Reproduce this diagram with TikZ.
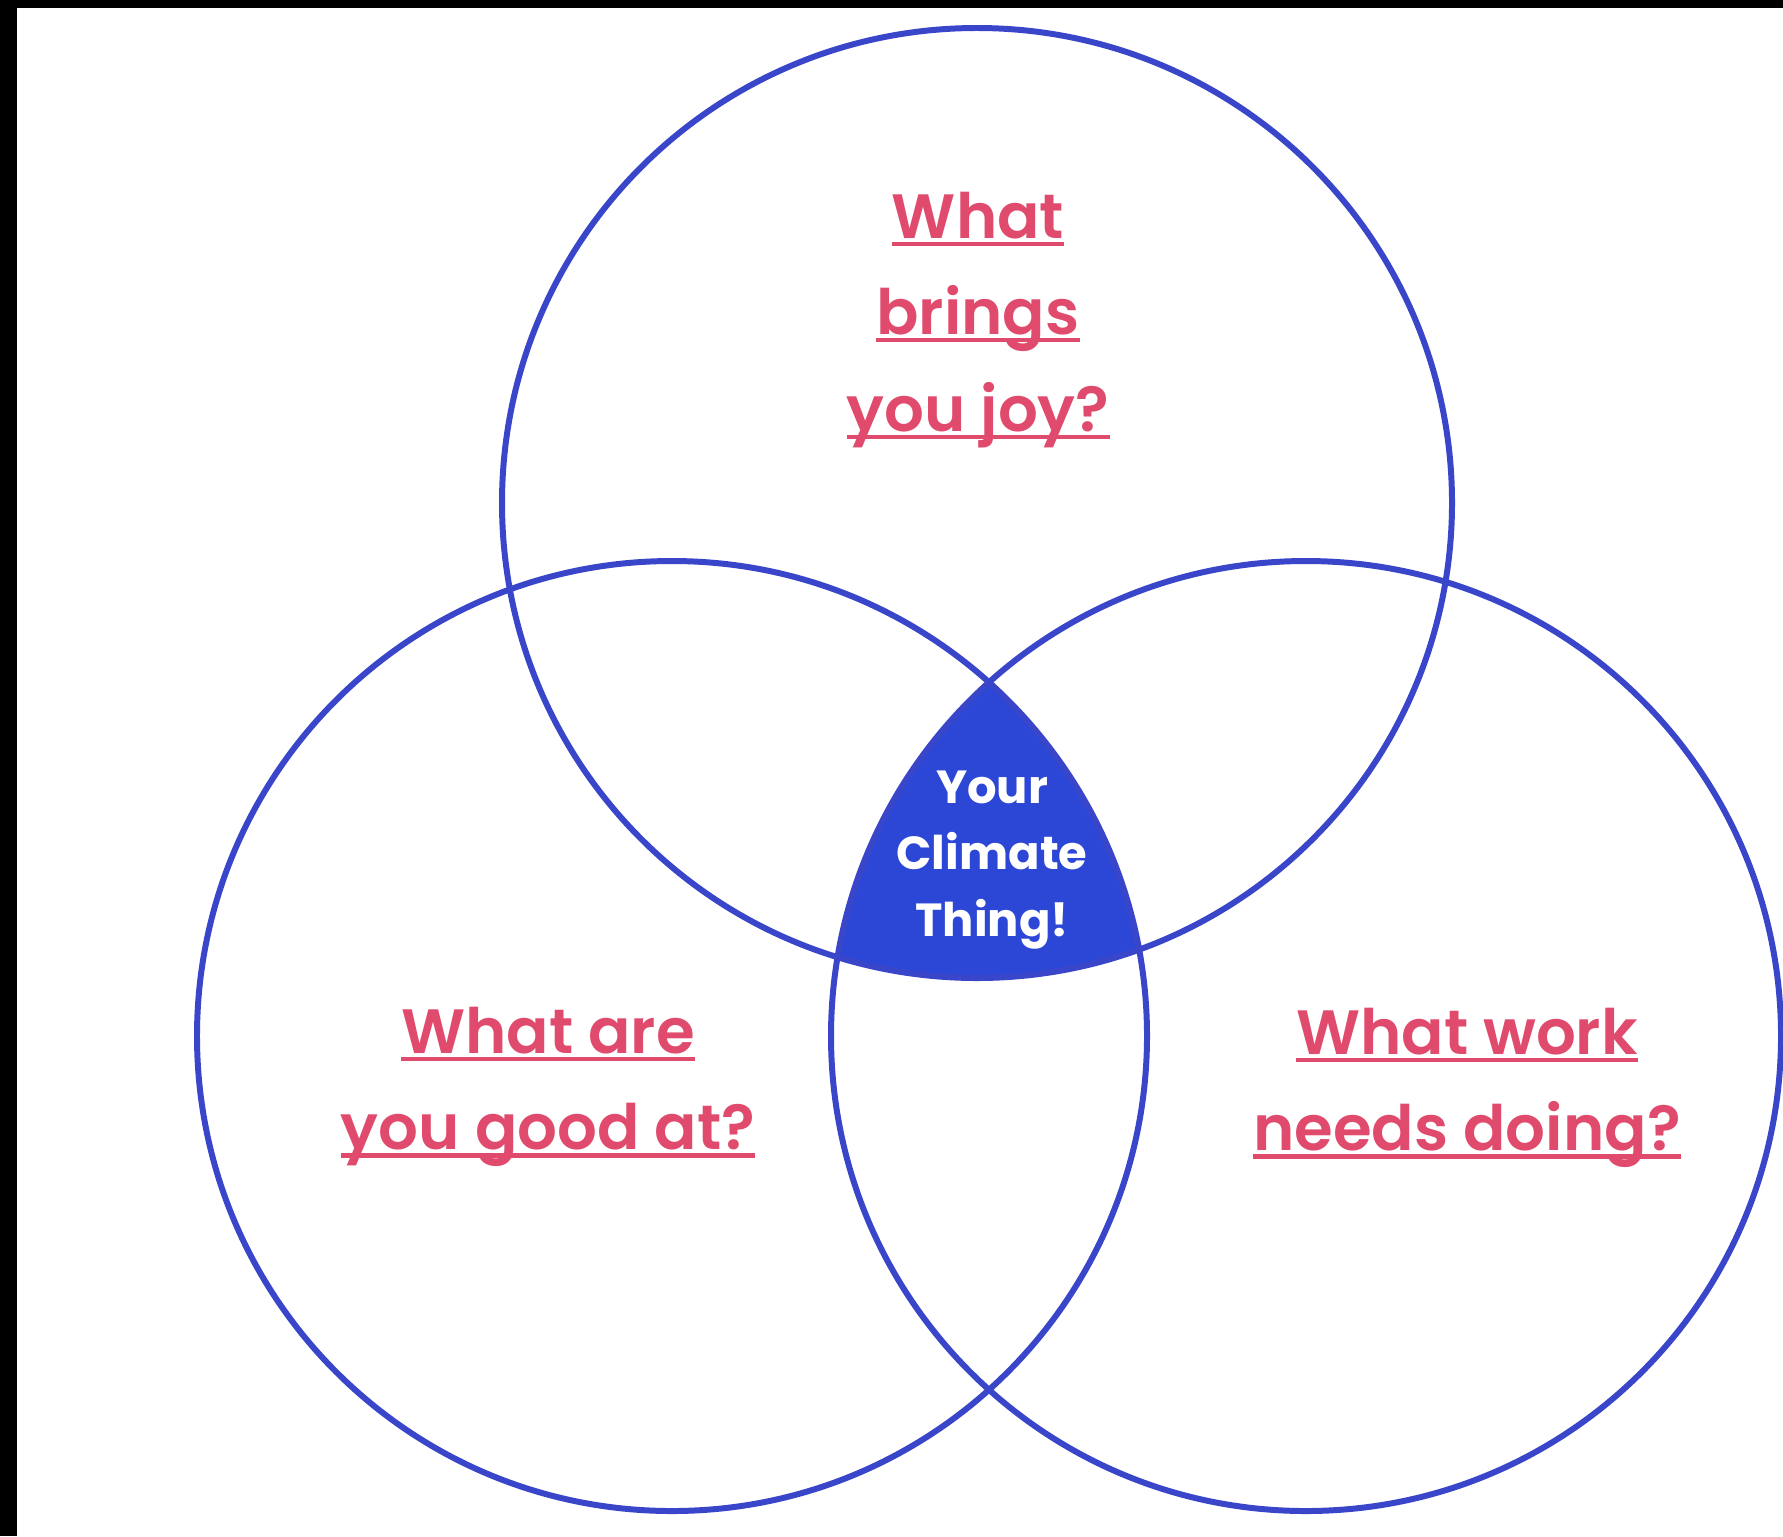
\documentclass[tikz,border=0pt]{standalone}
\usepackage{fontspec}
\setmainfont{Poppins}
\newfontfamily\qfont{Poppins}[UprightFont=* SemiBold]
\usetikzlibrary{positioning}

\definecolor{ringblue}{HTML}{3A46C9}
\definecolor{coreblue}{HTML}{2C46D6}
\definecolor{qpink}{HTML}{E04A6D}
\newcommand\ulw[1]{\setbox0\hbox{#1}\leavevmode\rlap{\rule[-0.12em]{\wd0}{0.065em}}\box0}

\begin{document}
\begin{tikzpicture}[x=0.01cm, y=-0.01cm,
	   ring/.style={draw=ringblue, line width=1.7pt},
	   question/.style={align=center, text=qpink, font=\qfont\fontsize{17.8}{27.5}\selectfont},
	   core/.style={align=center, text=white, font=\fontsize{13.2}{18.8}\selectfont\bfseries}]
	  \useasboundingbox (0,0) rectangle (1783,1536);
	  \fill[white] (0,0) rectangle (1783,1536);
	  \fill[black] (0,0) rectangle (1783,8);
	  \fill[black] (0,0) rectangle (17,1536);
	  \coordinate (joy) at (977,503);
	  \coordinate (good) at (672,1036);
	  \coordinate (need) at (1306,1036);
	  \begin{scope}
	    \clip (good) circle (475);
	    \clip (need) circle (475);
	    \fill[coreblue] (joy) circle (475);
	  \end{scope}
	  \draw[ring] (joy) circle (475);
	  \draw[ring] (good) circle (475);
	  \draw[ring] (need) circle (475);
	  \node[question] (joyq) at (978,320) {\ulw{What}\\\ulw{brings}\\\ulw{you joy?}};
	  \node[question] (goodq) at (548,1087) {\ulw{What are}\\\ulw{you good at?}};
	  \node[question] (needq) at (1467,1088) {\ulw{What work}\\\ulw{needs doing?}};
	  \node[core] (thing) at (992,860) {Your\\Climate\\Thing!};
	\end{tikzpicture}
\end{document}
